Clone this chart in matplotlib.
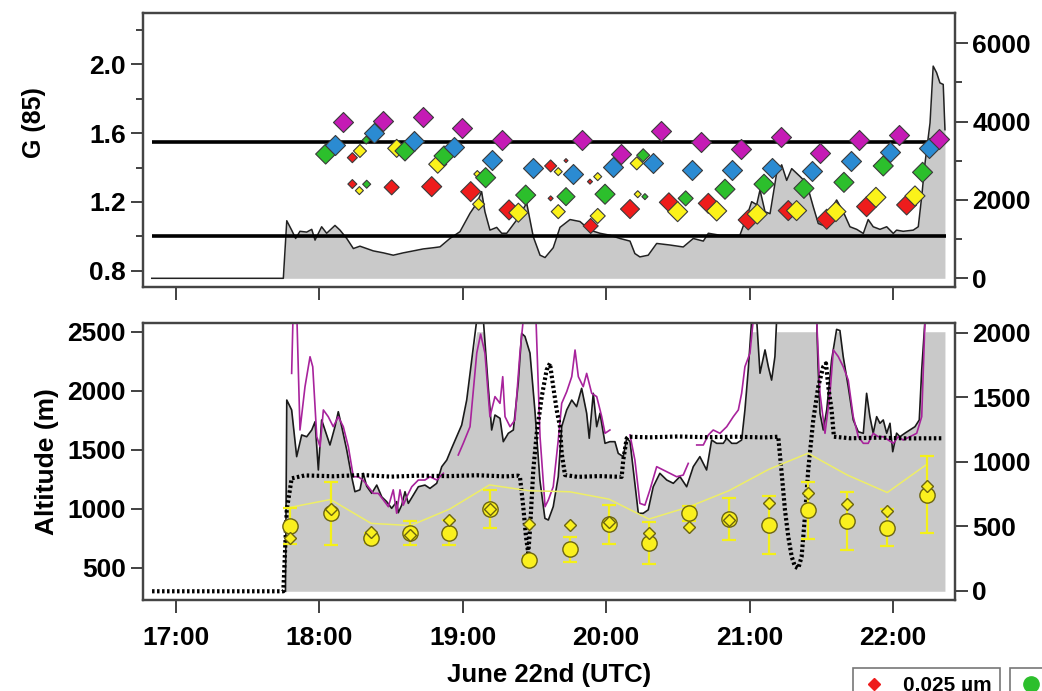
import matplotlib
matplotlib.use("Agg")
import matplotlib.pyplot as plt
import numpy as np
from matplotlib.lines import Line2D
from matplotlib.ticker import FixedLocator, FuncFormatter

plt.rcParams["font.family"] = ["Liberation Sans", "DejaVu Sans"]
plt.rcParams["font.weight"] = "bold"

# ---- upper panel: growth factor G(85) per dry size, plus the shaded series (right axis)
red_t = [18.231, 18.231, 18.505, 18.784, 19.056, 19.323, 19.613, 19.613, 19.720, 19.887,
         19.892, 20.166, 20.437, 20.712, 20.990, 21.269, 21.537, 21.815, 22.094]
red_g = [1.457, 1.304, 1.285, 1.289, 1.260, 1.154, 1.409, 1.221, 1.440, 1.318,
         1.061, 1.159, 1.198, 1.192, 1.096, 1.150, 1.100, 1.173, 1.183]
red_w = [0.5, 0.45, 0.75, 1.0, 1.0, 1.0, 0.6, 0.25, 0.2, 0.25,
         0.75, 0.95, 0.95, 1.0, 1.0, 1.0, 1.0, 1.0, 1.0]

yel_t = [18.284, 18.280, 18.540, 18.826, 19.102, 19.111, 19.388, 19.666, 19.666, 19.941,
         19.941, 20.213, 20.220, 20.498, 20.770, 21.053, 21.327, 21.601, 21.880, 22.152]
yel_g = [1.496, 1.266, 1.511, 1.419, 1.362, 1.187, 1.138, 1.376, 1.144, 1.347,
         1.119, 1.424, 1.245, 1.144, 1.148, 1.130, 1.150, 1.144, 1.227, 1.235]
yel_w = [0.65, 0.4, 0.9, 0.9, 0.35, 0.6, 0.95, 0.4, 0.7, 0.4,
         0.75, 0.65, 0.35, 1.0, 1.0, 1.0, 1.0, 1.0, 1.0, 1.0]

grn_t = [18.045, 18.328, 18.331, 18.598, 18.870, 19.160, 19.439, 19.720, 19.992, 20.258,
         20.270, 20.554, 20.828, 21.100, 21.378, 21.657, 21.931, 22.205]
grn_g = [1.478, 1.559, 1.303, 1.496, 1.467, 1.341, 1.240, 1.231, 1.245, 1.471,
         1.231, 1.221, 1.274, 1.303, 1.279, 1.314, 1.409, 1.372]
grn_w = [1.0, 0.4, 0.4, 1.0, 1.0, 1.0, 1.0, 0.9, 1.0, 0.65,
         0.3, 0.75, 1.0, 1.0, 1.0, 1.0, 1.0, 1.0]

blu_t = [18.110, 18.382, 18.661, 18.939, 19.206, 19.488, 19.771, 20.045, 20.328, 20.596,
         20.875, 21.153, 21.432, 21.704, 21.978, 22.252]
blu_g = [1.530, 1.602, 1.555, 1.517, 1.443, 1.395, 1.362, 1.401, 1.428, 1.386,
         1.386, 1.395, 1.380, 1.438, 1.492, 1.511]

mag_t = [18.168, 18.447, 18.721, 18.997, 19.272, 19.829, 20.103, 20.382, 20.659, 20.937,
         21.216, 21.490, 21.764, 22.043, 22.321]
mag_g = [1.662, 1.670, 1.695, 1.627, 1.559, 1.559, 1.477, 1.612, 1.550, 1.505,
         1.575, 1.486, 1.559, 1.587, 1.565]

g_levels = [1.0, 1.55]
flight_span = [16.833, 22.367]

shade_t = [16.833, 17.750, 17.774, 17.808, 17.836, 17.866, 17.913, 17.948, 17.971, 18.017,
           18.052, 18.110, 18.145, 18.192, 18.238, 18.284, 18.377, 18.447, 18.516, 18.586,
           18.656, 18.725, 18.795, 18.842, 18.911, 18.981, 19.051, 19.098, 19.132, 19.155,
           19.190, 19.237, 19.272, 19.307, 19.376, 19.446, 19.492, 19.539, 19.574, 19.631,
           19.678, 19.748, 19.817, 19.887, 19.956, 20.026, 20.096, 20.166, 20.200, 20.235,
           20.293, 20.352, 20.444, 20.537, 20.607, 20.677, 20.712, 20.793, 20.863, 20.932,
           20.979, 21.014, 21.049, 21.072, 21.107, 21.142, 21.188, 21.223, 21.258, 21.293,
           21.351, 21.397, 21.443, 21.478, 21.513, 21.560, 21.606, 21.652, 21.699, 21.746,
           21.792, 21.826, 21.861, 21.908, 21.955, 22.001, 22.024, 22.070, 22.140, 22.175,
           22.199, 22.222, 22.257, 22.279, 22.303, 22.326, 22.349, 22.361]
shade_v = [0, 0, 1470, 1230, 1017, 1200, 1180, 1250, 975, 1316,
           1150, 1350, 1230, 1017, 760, 820, 700, 650, 590, 650,
           700, 750, 780, 803, 1017, 1190, 1660, 1915, 2213, 1700,
           1230, 1300, 1150, 1150, 1487, 1920, 1060, 590, 530, 780,
           1300, 1500, 1450, 1230, 1150, 1100, 1017, 950, 632, 546,
           590, 890, 850, 800, 1017, 950, 1150, 1100, 1100, 1100,
           1572, 1956, 1880, 2256, 1700, 1650, 2684, 2897, 2500, 2800,
           2600, 2428, 1829, 1400, 1350, 1700, 2000, 1700, 1316, 1250,
           1145, 1500, 1316, 1250, 1316, 1145, 1230, 1200, 1230, 1316,
           2085, 2940, 3967, 5418, 5248, 4990, 4950, 3795]

# ---- lower panel: altitude (left axis)
alt_t = [17.765, 17.774, 17.808, 17.843, 17.878, 17.913, 17.948, 17.971, 17.994, 18.017,
         18.040, 18.075, 18.110, 18.133, 18.157, 18.192, 18.226, 18.249, 18.284, 18.307,
         18.331, 18.366, 18.401, 18.436, 18.470, 18.505, 18.540, 18.551, 18.575, 18.598,
         18.621, 18.656, 18.691, 18.737, 18.772, 18.819, 18.854, 18.889, 18.923, 18.958,
         18.993, 19.028, 19.063, 19.098, 19.144, 19.178, 19.202, 19.225, 19.260, 19.283,
         19.318, 19.353, 19.387, 19.411, 19.434, 19.469, 19.503, 19.538, 19.573, 19.597,
         19.631, 19.666, 19.690, 19.725, 19.760, 19.794, 19.829, 19.864, 19.882, 19.910,
         19.934, 19.957, 19.992, 20.026, 20.061, 20.084, 20.119, 20.143, 20.166, 20.189,
         20.224, 20.258, 20.293, 20.328, 20.374, 20.422, 20.468, 20.514, 20.561, 20.607,
         20.653, 20.700, 20.735, 20.770, 20.816, 20.840, 20.875, 20.909, 20.944, 20.967,
         20.990, 21.014, 21.049, 21.072, 21.107, 21.130, 21.153, 21.176, 21.188, 21.467,
         21.476, 21.490, 21.513, 21.537, 21.571, 21.606, 21.629, 21.652, 21.687, 21.722,
         21.757, 21.792, 21.815, 21.838, 21.861, 21.885, 21.908, 21.931, 21.955, 21.978,
         21.997, 22.024, 22.047, 22.082, 22.117, 22.152, 22.182, 22.199, 22.222, 22.361]
alt_m = [300, 1921, 1837, 1441, 1625, 1610, 1667, 1737, 1328, 1752,
         1667, 1540, 1695, 1822, 1695, 1497, 1271, 1144, 1160, 1300,
         1190, 1130, 1200, 1100, 1060, 1003, 1060, 966, 1030, 1144,
         1045, 1116, 1186, 1200, 1172, 1215, 1356, 1412, 1512, 1610,
         1709, 1921, 2260, 2600, 2600, 2034, 1667, 1794, 1766, 1568,
         1639, 1667, 2063, 2486, 2460, 2319, 1837, 1243, 918, 904,
         1017, 1271, 1695, 1837, 1921, 1865, 2020, 1809, 1597, 1978,
         1695, 1809, 1554, 1568, 1568, 1469, 1441, 1597, 1570, 1328,
         961, 961, 990, 1186, 1300, 1243, 1215, 1272, 1186, 1356,
         1441, 1328, 1582, 1554, 1554, 1597, 1554, 1554, 1582, 1837,
         2176, 2600, 2600, 2148, 2346, 2204, 2090, 2289, 2600, 2600,
         2232, 1809, 1667, 1837, 2260, 2520, 2510, 2288, 2034, 1752,
         1652, 1639, 1978, 1780, 1639, 1780, 1724, 1752, 1639, 1724,
         1483, 1640, 1610, 1640, 1667, 1695, 1752, 2175, 2600, 2600]
alt_cap = 2500
alt_floor = 300

mag_line_t = [17.808, 17.817, 17.845, 17.866, 17.901, 17.936, 17.955, 17.983, 18.006, 18.029,
              18.063, 18.098, 18.133, 18.168, 18.203, 18.238, 18.272, 18.307, 18.342, 18.377,
              18.412, 18.447, 18.482, 18.516, 18.540, 18.563, 18.586, 18.610, 18.645, 18.691,
              18.737, 18.772, 18.819, 18.865, 18.920,
              18.969, 19.004, 19.051, 19.098, 19.125, 19.155, 19.190, 19.225, 19.260, 19.279,
              19.295, 19.330, 19.364, 19.399, 19.422, 19.511, 19.539, 19.574, 19.597, 19.631,
              19.666, 19.690, 19.725, 19.760, 19.783, 19.806, 19.840, 19.864, 19.899, 19.934,
              19.969, 19.992, 20.026, 20.100,
              20.166, 20.200, 20.235, 20.270, 20.305, 20.352, 20.398, 20.444, 20.491, 20.537,
              20.572, 20.600,
              20.631, 20.677, 20.712, 20.746, 20.793, 20.840, 20.886, 20.921, 20.944, 20.967,
              21.002, 21.025, 21.467, 21.490, 21.525, 21.560, 21.583, 21.617, 21.652, 21.687,
              21.722, 21.757, 21.792, 21.826, 21.861, 21.896, 21.931, 21.966, 22.001, 22.035,
              22.070, 22.117, 22.164, 22.199, 22.222]
mag_line_m = [2147, 2600, 2600, 1667, 2034, 2288, 2203, 1610, 1525, 1837,
              1780, 1695, 1780, 1695, 1525, 1271, 1271, 1240, 1186, 1130,
              1130, 1074, 1017, 1160, 961, 1160, 1030, 1100, 1186, 1243,
              1243, 1271, 1243, 1300, np.nan,
              1455, 1554, 1695, 2319, 2480, 2319, 1780, 1950, 1893, 2119,
              1780, 1695, 1752, 2319, 2600, 2600, 1610, 1017, 1074, 1186,
              1582, 1893, 1992, 2119, 2345, 2119, 2034, 2147, 1978, 1950,
              1780, 1639, 1667, np.nan,
              1625, 1413, 1045, 1030, 1160, 1356, 1328, 1300, 1271, 1285,
              1384, np.nan,
              1540, 1540, 1625, 1667, 1639, 1695, 1780, 1837, 1978, 2204,
              2318, 2600, 2600, 1978, 1639, 1978, 2346, 2290, 2204, 2090,
              1780, 1610, 1554, 1554, 1639, 1610, 1610, 1582, 1554, 1610,
              1582, 1610, 1639, 1780, 2600]

dot_t = [16.835, 17.750, 17.774, 17.808, 17.900, 18.100, 18.300, 18.500, 18.700, 18.900,
         19.100, 19.300, 19.387, 19.399, 19.422, 19.441, 19.457, 19.469, 19.492, 19.516,
         19.551, 19.585, 19.608, 19.631, 19.655, 19.678, 19.690, 19.713, 19.800, 19.950,
         20.108, 20.119, 20.143, 20.154, 20.300, 20.500, 20.700, 20.900, 21.100, 21.199,
         21.223, 21.246, 21.269, 21.293, 21.316, 21.339, 21.362, 21.385, 21.408, 21.443,
         21.478, 21.513, 21.532, 21.548, 21.571, 21.587, 21.700, 21.900, 22.100, 22.349]
dot_m = [300, 300, 989, 1257, 1282, 1275, 1285, 1272, 1280, 1276,
         1283, 1274, 1280, 1271, 1017, 763, 622, 819, 1328, 1639,
         1950, 2176, 2232, 2034, 1837, 1695, 1469, 1285, 1270, 1276,
         1270, 1413, 1597, 1610, 1605, 1612, 1606, 1610, 1604, 1610,
         1300, 989, 763, 593, 508, 495, 593, 932, 1328, 1752,
         2034, 2204, 2232, 2034, 1837, 1610, 1597, 1602, 1596, 1597]

# ---- lower panel: yellow marker series (right axis)
yc_t = [17.794, 18.079, 18.362, 18.636, 18.908, 19.187, 19.461, 19.745, 20.019, 20.298,
        20.576, 20.855, 21.132, 21.406, 21.680, 21.959, 22.235]
yc_circle = [504, 600, 406, 448, 450, 633, 238, 322, 515, 368,
             600, 554, 509, 622, 540, 488, 743]
yc_err = [140, 242, 40, 92, 96, 148, 30, 97, 150, 161,
          60, 161, 222, 218, 224, 145, 298]
yc_diamond = [406, 632, 457, 428, 550, 636, 517, 509, 535, 448,
              493, 548, 682, 758, 675, 616, 812]
yc_trend = [645, 707, 522, 505, 632, 820, 775, 767, 710, 555,
            650, 775, 940, 1065, 897, 761, 980]

hours = [17, 18, 19, 20, 21, 22]

tick_kw = dict(direction="out", length=9, width=1.3, colors="#333333",
               labelsize=19, labelcolor="black")

fig = plt.figure(figsize=(10.42, 6.91), dpi=100)
ax_top = fig.add_axes([143 / 1042, 1 - 287 / 691, 812 / 1042, 274 / 691])
ax_topr = ax_top.twinx()
ax_bot = fig.add_axes([143 / 1042, 1 - 600 / 691, 812 / 1042, 277 / 691])
ax_botr = ax_bot.twinx()

for ax in (ax_top, ax_topr, ax_bot, ax_botr):
    ax.set_xlim(16.772, 22.431)
    for sp in ax.spines.values():
        sp.set_color("#444444")
        sp.set_linewidth(1.6)
    ax.tick_params(which="major", **tick_kw)
    ax.tick_params(which="minor", direction="out", length=5, width=1.3, colors="#333333")
    ax.xaxis.set_major_locator(FixedLocator(hours))
    ax.xaxis.set_major_formatter(FuncFormatter(lambda v, p: f"{int(round(v))}:00"))

# upper panel
ax_top.set_zorder(ax_topr.get_zorder() + 1)
ax_top.patch.set_visible(False)

ax_topr.fill_between(shade_t, 0, shade_v, color="#c9c9c9", lw=0)
ax_topr.plot(shade_t, shade_v, color="#222222", lw=1.1)
ax_topr.set_ylim(-222, 6774)
ax_topr.yaxis.set_major_locator(FixedLocator([0, 2000, 4000, 6000]))
ax_topr.yaxis.set_minor_locator(FixedLocator([1000, 3000, 5000]))

ax_top.hlines(g_levels, flight_span[0], flight_span[1], color="black", lw=2.6, zorder=2)
base = 10.2
edge = "#3a3a3a"
ax_top.scatter(red_t, red_g, s=(base * np.array(red_w)) ** 2, marker="D",
               c="#ee1c1c", edgecolors=edge, linewidths=0.8, zorder=3)
ax_top.scatter(yel_t, yel_g, s=(base * np.array(yel_w)) ** 2, marker="D",
               c="#fbf21a", edgecolors=edge, linewidths=0.8, zorder=4)
ax_top.scatter(grn_t, grn_g, s=(base * np.array(grn_w)) ** 2, marker="D",
               c="#2cbf2c", edgecolors=edge, linewidths=0.8, zorder=5)
ax_top.scatter(blu_t, blu_g, s=base ** 2, marker="D",
               c="#2b8bd2", edgecolors=edge, linewidths=0.8, zorder=6)
ax_top.scatter(mag_t, mag_g, s=base ** 2, marker="D",
               c="#c51bb5", edgecolors=edge, linewidths=0.8, zorder=7)
ax_top.set_ylim(0.707, 2.296)
ax_top.yaxis.set_major_locator(FixedLocator([0.8, 1.2, 1.6, 2.0]))
ax_top.yaxis.set_minor_locator(FixedLocator([1.0, 1.4, 1.8, 2.2]))
ax_top.yaxis.set_major_formatter(FuncFormatter(lambda v, p: f"{v:.1f}"))
ax_top.set_ylabel("G (85)", fontsize=18, fontweight="bold")
ax_top.yaxis.set_label_coords(-0.12, 0.6)
ax_top.tick_params(axis="x", labelbottom=False)
ax_topr.tick_params(axis="x", labelbottom=False)

# lower panel
alt = np.array(alt_m, dtype=float)
ax_bot.fill_between(alt_t, alt_floor, np.minimum(alt, alt_cap), color="#c9c9c9", lw=0)
ax_bot.plot(alt_t, alt, color="#1a1a1a", lw=1.2, zorder=3)
ax_bot.plot(mag_line_t, mag_line_m, color="#a8239c", lw=1.2, zorder=4)
ax_bot.plot(dot_t, dot_m, color="black", lw=3.0, ls=(0, (0.6, 0.6)), zorder=5)
ax_bot.set_ylim(226, 2574)
ax_bot.yaxis.set_major_locator(FixedLocator([500, 1000, 1500, 2000, 2500]))
ax_bot.set_ylabel("Altitude (m)", fontsize=19, fontweight="bold", labelpad=6)
ax_bot.set_xlabel("June 22nd (UTC)", fontsize=18.5, fontweight="bold", labelpad=9)
ax_bot.tick_params(axis="x", pad=10)

ax_botr.plot(yc_t, yc_trend, color="#eeee66", lw=1.1, zorder=1)
ax_botr.errorbar(yc_t, yc_circle, yerr=yc_err, fmt="none", ecolor="#f4f019",
                 elinewidth=1.6, capsize=5, capthick=1.6, zorder=2)
ax_botr.plot(yc_t, yc_circle, ls="none", marker="o", ms=11, mfc="#faf01e",
             mec="#6b6410", mew=1.0, zorder=3)
ax_botr.plot(yc_t, yc_diamond, ls="none", marker="D", ms=6.2, mfc="#faf01e",
             mec="#6b6410", mew=1.0, zorder=4)
ax_botr.set_ylim(-72, 2075)
ax_botr.yaxis.set_major_locator(FixedLocator([0, 500, 1000, 1500, 2000]))

# size key, partly outside the canvas
leg_kw = dict(loc="upper left", frameon=True, fancybox=False, fontsize=15,
              handlelength=1.2, handletextpad=0.8, borderpad=0.4, borderaxespad=0,
              edgecolor="#555555")
leg1 = fig.legend(handles=[Line2D([], [], ls="none", marker="D", ms=6, mfc="#ee1c1c",
                                  mec="#ee1c1c")],
                  labels=["0.025 \u00b5m"], bbox_to_anchor=(853 / 1042, 1 - 668 / 691),
                  **leg_kw)
leg1.get_frame().set_linewidth(1.2)
leg2 = fig.legend(handles=[Line2D([], [], ls="none", marker="o", ms=11, mfc="#2cbf2c",
                                  mec="#2cbf2c")],
                  labels=["0.050 \u00b5m"], bbox_to_anchor=(1010 / 1042, 1 - 668 / 691),
                  **leg_kw)
leg2.get_frame().set_linewidth(1.2)

fig.savefig("out.png", dpi=100)
